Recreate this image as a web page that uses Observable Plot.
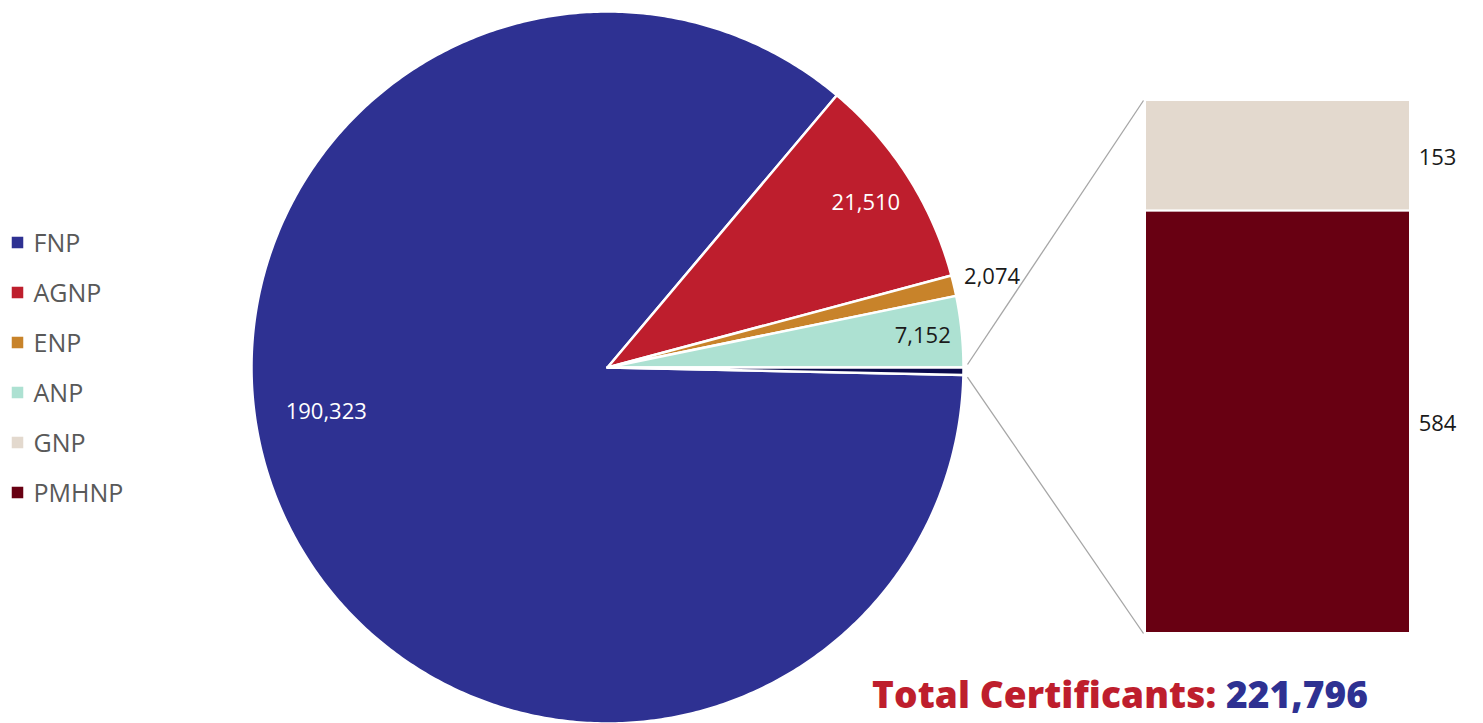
<!DOCTYPE html>
<html>
<head>
<meta charset="utf-8">
<script src="https://cdn.jsdelivr.net/npm/d3@7"></script>
<script src="https://cdn.jsdelivr.net/npm/@observablehq/plot@0.6"></script>
<style>
  html, body { margin: 0; padding: 0; background: #fff; }
  #wrap { position: relative; width: 1483px; height: 723px; overflow: hidden; }
  #title { position: absolute; left: 872px; top: 668px; font-family: "Open Sans", sans-serif; font-weight: 800; font-size: 37px; white-space: nowrap; letter-spacing: 0.1px; }
  #title .a { color: #be1e2d; }
  #title .b { color: #2e3192; }
</style>
</head>
<body>
<div id="wrap"><div id="chart"></div><div id="title"><span class="a">Total Certificants: </span><span class="b" id="totalVal"></span></div></div>
<script>
// ---- data ----
const categories = ["FNP", "AGNP", "ENP", "ANP", "GNP", "PMHNP"];
const values = [190323, 21510, 2074, 7152, 153, 584];
const colors = ["#2e3192", "#be1e2d", "#c8832a", "#ade1d2", "#e3d9ce", "#680012"];
const pieCategories = ["FNP", "AGNP", "ENP", "ANP"];   // slices in main pie
const barCategories = ["GNP", "PMHNP"];                // split into the bar
const otherColor = "#0b0b4e";

// ---- layout ----
const W = 1483, H = 723;
const cx = 607, cy = 367, R = 356;
const bar = {x1: 1145, x2: 1410, top: 100, bottom: 633};
const labelPlace = { // radial fraction, angular nudge (deg)
  FNP: [0.80, 15.3], AGNP: [0.86, 0], ENP: [1.11, 0], ANP: [0.89, 0]
};
const labelFill = {FNP: "#fff", AGNP: "#fff", ENP: "#1a1a1a", ANP: "#1a1a1a"};

const val = Object.fromEntries(categories.map((c, i) => [c, values[i]]));
const total = d3.sum(values);
const otherTotal = d3.sum(barCategories, c => val[c]);
document.getElementById("totalVal").textContent = d3.format(",")(total);

const pieData = pieCategories.map(c => ({key: c, value: val[c]})).concat([{key: "Other", value: otherTotal}]);
const otherAngle = otherTotal / total * 2 * Math.PI;
const arcs = d3.pie().sort(null).value(d => d.value)
  .startAngle(Math.PI / 2 + otherAngle).endAngle(Math.PI / 2 + otherAngle + 2 * Math.PI)(pieData);

const px = (a, r) => cx + r * Math.sin(a);
const py = (a, r) => cy - r * Math.cos(a);

const polyPts = [];
for (const a of arcs) {
  const n = Math.max(2, Math.ceil((a.endAngle - a.startAngle) / 0.01));
  polyPts.push({key: a.data.key, x: cx, y: cy});
  for (let i = 0; i <= n; i++) {
    const t = a.startAngle + (a.endAngle - a.startAngle) * i / n;
    polyPts.push({key: a.data.key, x: px(t, R), y: py(t, R)});
  }
  polyPts.push({key: a.data.key, x: cx, y: cy});
}

const pieLabels = arcs.filter(a => a.data.key !== "Other").map(a => {
  const [f, nudge] = labelPlace[a.data.key];
  const m = (a.startAngle + a.endAngle) / 2 + nudge * Math.PI / 180;
  return {key: a.data.key, text: d3.format(",")(a.data.value), x: px(m, R * f), y: py(m, R * f)};
});

// bar segments
const k = (bar.bottom - bar.top) / otherTotal;
let cum = 0;
const barSegs = barCategories.map(c => {
  const s = {key: c, value: val[c], y1: bar.top + cum * k, y2: bar.top + (cum + val[c]) * k};
  cum += val[c];
  return s;
});

// connectors
const oArc = arcs.find(a => a.data.key === "Other");
const links = [
  {x1: px(oArc.startAngle, R + 4), y1: py(oArc.startAngle, R + 4) - 3, x2: bar.x1 - 2, y2: bar.top},
  {x1: px(oArc.endAngle, R + 4), y1: py(oArc.endAngle, R + 4) + 2, x2: bar.x1 - 2, y2: bar.bottom}
];

// legend
const legend = categories.map((c, i) => ({key: c, y: 242 + i * 50}));

const colorDomain = categories.concat(["Other"]);
const colorRange = colors.concat([otherColor]);

const chart = Plot.plot({
  width: W, height: H,
  marginTop: 0, marginRight: 0, marginBottom: 0, marginLeft: 0,
  x: {domain: [0, W], range: [0, W], axis: null},
  y: {domain: [0, H], range: [0, H], axis: null},
  color: {domain: colorDomain, range: colorRange},
  style: {fontFamily: "Open Sans, sans-serif", background: "#fff"},
  marks: [
    Plot.line(polyPts, {x: "x", y: "y", z: "key", fill: "key", stroke: "#fff", strokeWidth: 2.5, strokeLinejoin: "round"}),
    Plot.text(pieLabels, {x: "x", y: "y", text: "text", fill: d => labelFill[d.key], fontSize: 22}),
    Plot.rect(barSegs, {x1: () => bar.x1, x2: () => bar.x2, y1: "y1", y2: "y2", fill: "key", stroke: "#fff", strokeWidth: 2}),
    Plot.text(barSegs, {x: () => bar.x2 + 27, y: d => (d.y1 + d.y2) / 2 + 2, text: d => d3.format(",")(d.value), fill: "#1a1a1a", fontSize: 22}),
    Plot.link(links, {x1: "x1", y1: "y1", x2: "x2", y2: "y2", stroke: "#a6a6a6", strokeWidth: 1.3}),
    Plot.dot(legend, {x: () => 17, y: "y", symbol: "square", r: 6.5, fill: "key"}),
    Plot.text(legend, {x: () => 33, y: "y", text: "key", textAnchor: "start", fill: "#595959", fontSize: 25, dy: 1})
  ]
});
document.getElementById("chart").appendChild(chart);
</script>
</body>
</html>
